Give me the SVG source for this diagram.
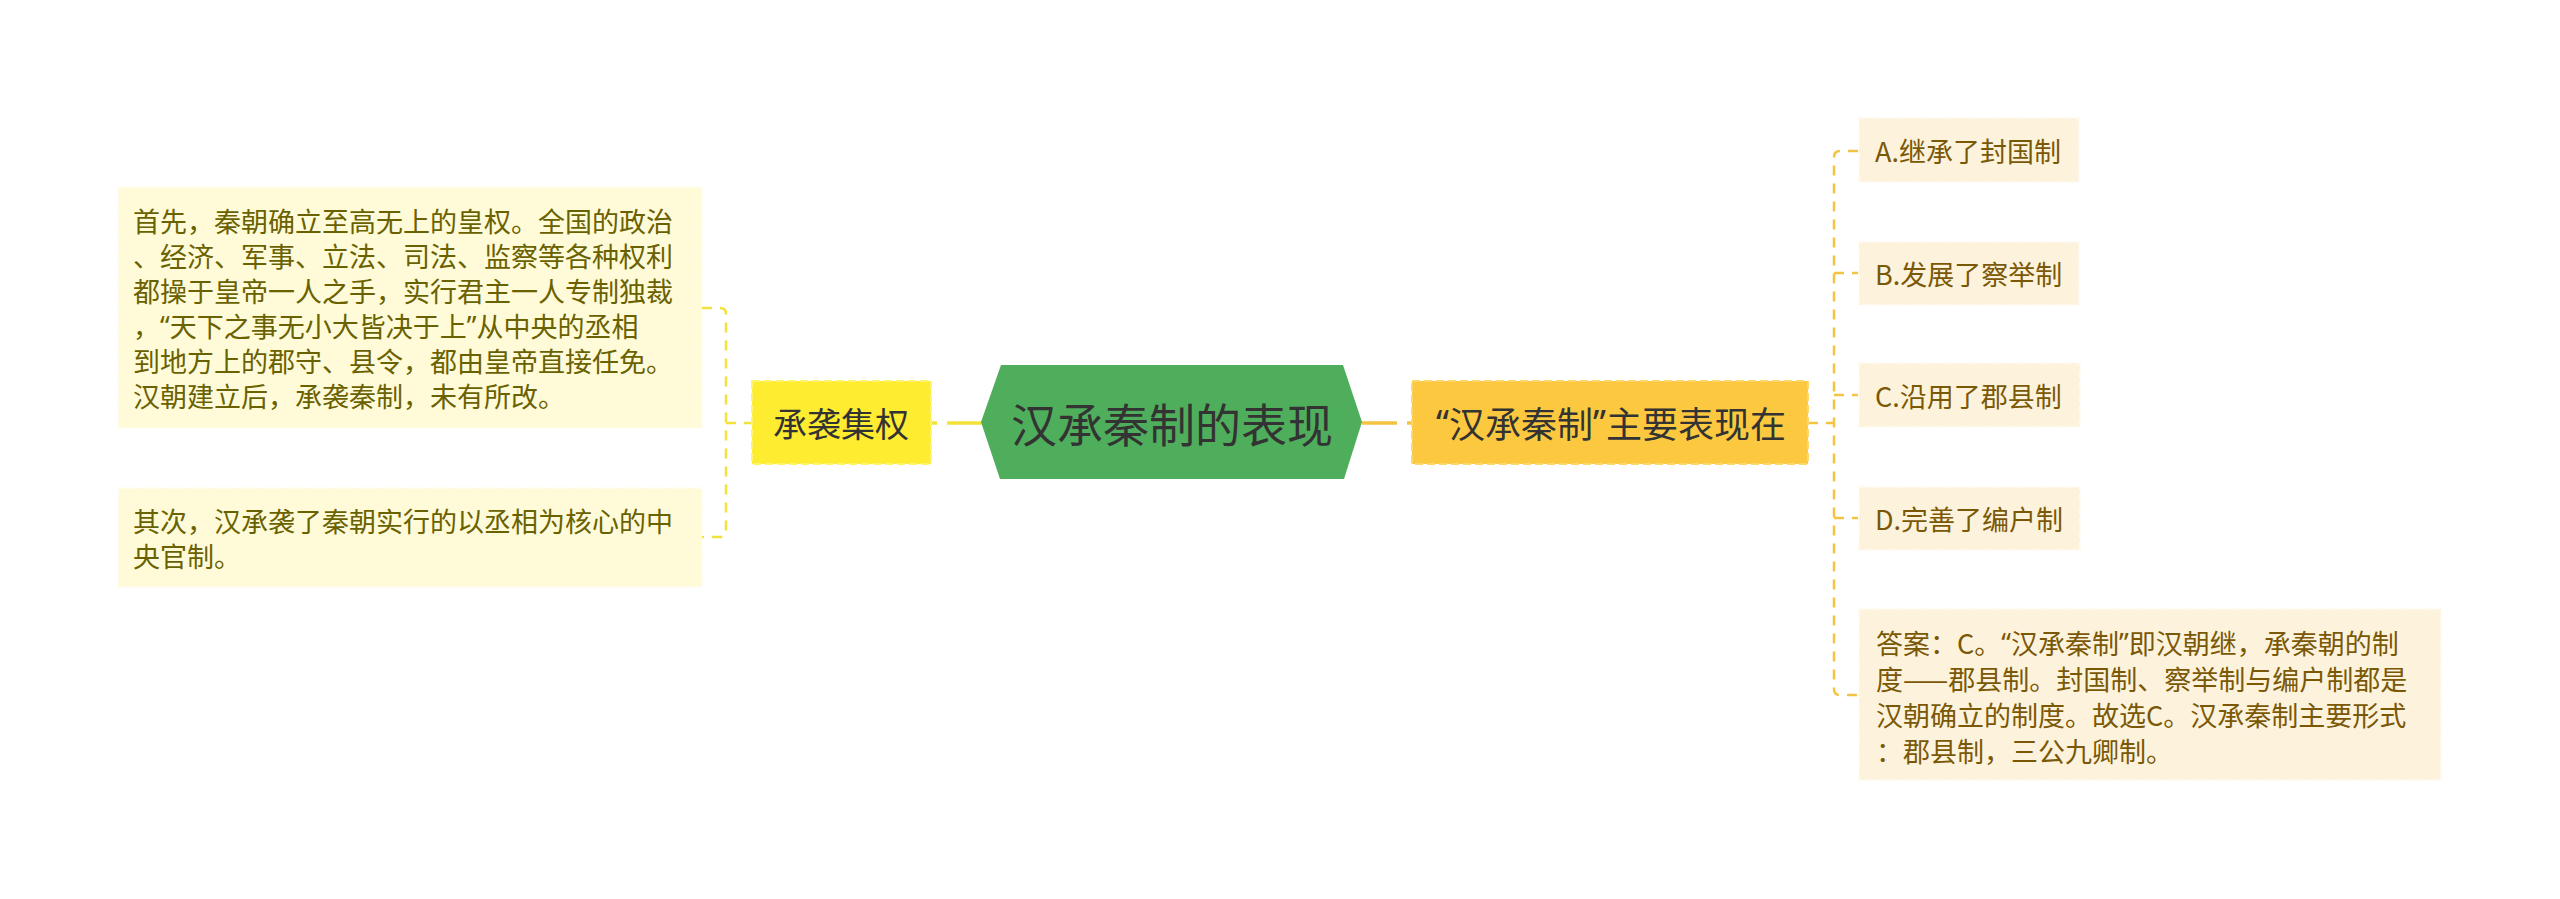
<svg xmlns="http://www.w3.org/2000/svg" width="2560" height="899" viewBox="0 0 2560 899">
<style>
text{font-family:"Noto Sans CJK SC","Noto Sans",sans-serif;dominant-baseline:central}
.q{font-family:"Noto Sans","Liberation Sans",sans-serif}
.lt{font-size:27px;fill:#6a6100}
.rt{font-size:27px;fill:#7a5806}
.lbox{fill:#fffbd8;stroke:#fffdf0;stroke-width:2;stroke-dasharray:8 4}
.rbox{fill:#fdf3dc;stroke:#fffaf0;stroke-width:2;stroke-dasharray:8 4}
.ly{fill:none;stroke:#f3e23a;stroke-width:2.5;stroke-dasharray:10 8}
.ry{fill:none;stroke:#f5c342;stroke-width:2.5;stroke-dasharray:10 8}
</style>
<rect width="2560" height="899" fill="#ffffff"/>
<g id="connectors">
<path class="ly" d="M702 308 L720 308 Q726 308 726 314 L726 531 Q726 537 720 537 L702 537"/>
<path class="ly" d="M726 423 L752 423"/>
<path d="M931 423 L937 423 M947 423 L982 423" fill="none" stroke="#f3e23a" stroke-width="3.5"/>
<path d="M1362 423 L1397 423 M1407 423 L1413 423" fill="none" stroke="#f5c342" stroke-width="3.5"/>
<path class="ry" d="M1808 423 L1834 423"/>
<path class="ry" d="M1858 151 L1840 151 Q1834 151 1834 157 L1834 689 Q1834 695 1840 695 L1858 695"/>
<path class="ry" d="M1834 273 L1858 273"/>
<path class="ry" d="M1834 395 L1858 395"/>
<path class="ry" d="M1834 518 L1858 518"/>
</g>
<g id="root">
<polygon points="981,422 1001,365 1343,365 1362,422 1344,479 1000,479" fill="#4fae5b"/>
<text x="1172" y="422" text-anchor="middle" font-size="46" fill="#333333">汉承秦制的表现</text>
</g>
<g id="left-main">
<rect x="752" y="381" width="179" height="83" fill="#feec30" stroke="#fff46e" stroke-width="2" stroke-dasharray="8 4"/>
<text x="841" y="422" text-anchor="middle" font-size="34" fill="#333333">承袭集权</text>
</g>
<g id="left-1">
<rect class="lbox" x="118" y="187" width="584" height="241"/>
<text class="lt" x="133" y="220">首先，秦朝确立至高无上的皇权。全国的政治</text>
<text class="lt" x="133" y="255">、经济、军事、立法、司法、监察等各种权利</text>
<text class="lt" x="133" y="290">都操于皇帝一人之手，实行君主一人专制独裁</text>
<text class="lt" x="133" y="325">，<tspan class="q">“</tspan>天下之事无小大皆决于上<tspan class="q">”</tspan>从中央的丞相</text>
<text class="lt" x="133" y="360">到地方上的郡守、县令，都由皇帝直接任免。</text>
<text class="lt" x="133" y="395">汉朝建立后，承袭秦制，未有所改。</text>
</g>
<g id="left-2">
<rect class="lbox" x="118" y="488" width="584" height="99"/>
<text class="lt" x="133" y="520">其次，汉承袭了秦朝实行的以丞相为核心的中</text>
<text class="lt" x="133" y="555">央官制。</text>
</g>
<g id="right-main">
<rect x="1412" y="381" width="396" height="83" fill="#fcc83f" stroke="#fdd76a" stroke-width="2" stroke-dasharray="8 4"/>
<text x="1611" y="422" text-anchor="middle" font-size="36" fill="#333333"><tspan class="q">“</tspan>汉承秦制<tspan class="q">”</tspan>主要表现在</text>
</g>
<g id="opt-a">
<rect class="rbox" x="1859" y="118" width="220" height="64"/>
<text class="rt" x="1875" y="150">A.继承了封国制</text>
</g>
<g id="opt-b">
<rect class="rbox" x="1859" y="242" width="220" height="63"/>
<text class="rt" x="1875" y="273">B.发展了察举制</text>
</g>
<g id="opt-c">
<rect class="rbox" x="1859" y="363" width="221" height="64"/>
<text class="rt" x="1875" y="395">C.沿用了郡县制</text>
</g>
<g id="opt-d">
<rect class="rbox" x="1859" y="487" width="221" height="63"/>
<text class="rt" x="1875" y="518">D.完善了编户制</text>
</g>
<g id="answer">
<rect class="rbox" x="1859" y="609" width="582" height="171"/>
<text class="rt" x="1876" y="642">答案：C。<tspan class="q">“</tspan>汉承秦制<tspan class="q">”</tspan>即汉朝继，承秦朝的制</text>
<text class="rt" x="1876" y="678">度——郡县制。封国制、察举制与编户制都是</text>
<text class="rt" x="1876" y="714">汉朝确立的制度。故选C。汉承秦制主要形式</text>
<text class="rt" x="1876" y="750">：郡县制，三公九卿制。</text>
</g>
</svg>
